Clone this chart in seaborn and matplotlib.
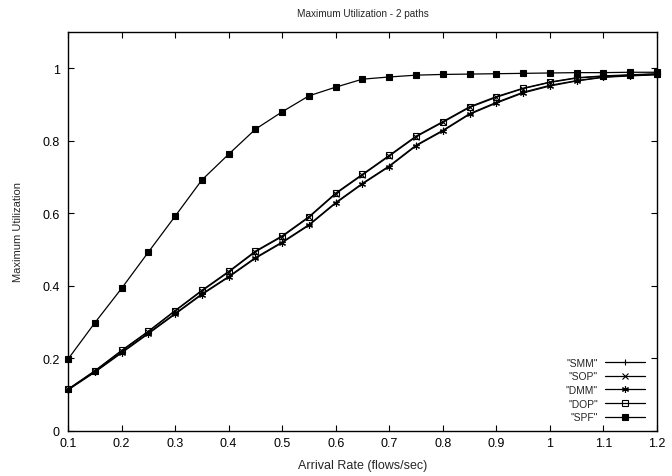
import numpy as np
import matplotlib
matplotlib.use("Agg")
import matplotlib.pyplot as plt
import seaborn as sns

rate = [0.1, 0.15, 0.2, 0.25, 0.3, 0.35, 0.4, 0.45, 0.5, 0.55, 0.6, 0.65,
        0.7, 0.75, 0.8, 0.85, 0.9, 0.95, 1.0, 1.05, 1.1, 1.15, 1.2]

smm = [0.114, 0.163, 0.217, 0.270, 0.324, 0.378, 0.426, 0.478, 0.521, 0.569, 0.630, 0.683,
       0.731, 0.788, 0.829, 0.875, 0.906, 0.934, 0.953, 0.966, 0.976, 0.980, 0.983]
sop = [0.115, 0.165, 0.221, 0.274, 0.331, 0.386, 0.438, 0.494, 0.536, 0.589, 0.654, 0.706,
       0.758, 0.811, 0.851, 0.892, 0.920, 0.944, 0.961, 0.973, 0.978, 0.981, 0.984]
dmm = [0.113, 0.162, 0.215, 0.268, 0.322, 0.376, 0.424, 0.476, 0.519, 0.567, 0.628, 0.681,
       0.729, 0.786, 0.827, 0.873, 0.904, 0.932, 0.951, 0.965, 0.975, 0.979, 0.982]
dop = [0.115, 0.166, 0.222, 0.275, 0.332, 0.388, 0.440, 0.496, 0.538, 0.591, 0.656, 0.708,
       0.760, 0.813, 0.853, 0.894, 0.922, 0.945, 0.962, 0.974, 0.979, 0.982, 0.985]
spf = [0.198, 0.298, 0.393, 0.493, 0.592, 0.692, 0.763, 0.832, 0.880, 0.924, 0.948, 0.970,
       0.976, 0.981, 0.983, 0.984, 0.985, 0.986, 0.987, 0.988, 0.988, 0.989, 0.989]

xtick_labels = ['0.1', '0.2', '0.3', '0.4', '0.5', '0.6', '0.7', '0.8', '0.9', '1', '1.1', '1.2']
ytick_labels = ['0', '0.2', '0.4', '0.6', '0.8', '1']

sns.set_style("ticks")
plt.rcParams['font.family'] = ['Liberation Sans', 'DejaVu Sans']

fig = plt.figure(figsize=(6.72, 4.77), dpi=100)
ax = fig.add_axes([68/672, 45/477, 589/672, 399/477])

series = [('"SMM"', smm, dict(marker='+', markersize=5)),
          ('"SOP"', sop, dict(marker='x', markersize=4)),
          ('"DMM"', dmm, dict(marker=(6, 2, 0), markersize=5)),
          ('"DOP"', dop, dict(marker='s', markersize=4.5, markerfacecolor='none')),
          ('"SPF"', spf, dict(marker='s', markersize=5))]

for name, vals, st in series:
    sns.lineplot(x=rate, y=vals, ax=ax, color='black', linewidth=0.9, clip_on=False,
                 markeredgecolor='black', markeredgewidth=0.8, label=name, **st)

ax.set_xlim(0.1, 1.2)
ax.set_ylim(0, 1.1)
ax.set_xticks(np.arange(0.1, 1.21, 0.1))
ax.set_xticklabels(xtick_labels)
ax.set_yticks([0, 0.2, 0.4, 0.6, 0.8, 1.0])
ax.set_yticklabels(ytick_labels)
ax.tick_params(direction='in', length=4.5, width=0.8, top=True, right=True,
               labelsize=9, colors='black')
ax.tick_params(axis='x', pad=4.5)
ax.tick_params(axis='y', pad=6)
for sp in ax.spines.values():
    sp.set_linewidth(1.0)
    sp.set_color('black')

ax.set_xlabel('Arrival Rate (flows/sec)', fontsize=9, labelpad=7)
ax.set_ylabel('Maximum Utilization', fontsize=8, labelpad=14)
ax.set_title('Maximum Utilization - 2 paths', fontsize=7.2, pad=11.5)

ax.legend(loc='lower right', bbox_to_anchor=(0.98, 0.022), frameon=False,
          markerfirst=False, handlelength=3.9, handletextpad=0.7,
          labelspacing=0.35, fontsize=7.4, borderpad=0, borderaxespad=0)

fig.savefig('out.png', dpi=100)
